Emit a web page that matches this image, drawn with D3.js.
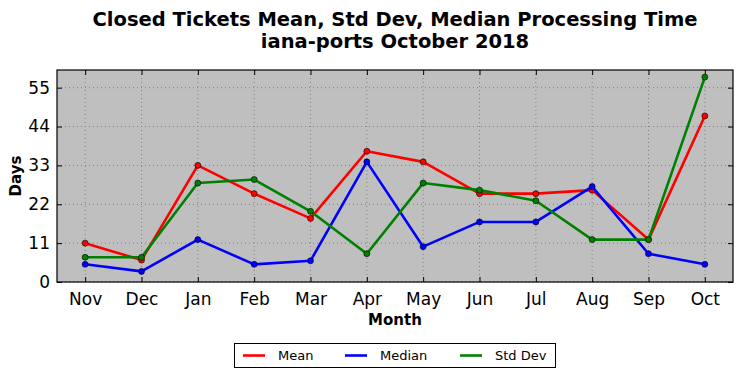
<!DOCTYPE html>
<html><head><meta charset="utf-8">
<script src="https://cdn.jsdelivr.net/npm/d3@7/dist/d3.min.js"></script>
<style>body{margin:0;background:#fff}svg{display:block;font-family:"DejaVu Sans",sans-serif}</style>
</head><body><svg id="c" width="742" height="378"></svg>
<script>
const months = ["Nov","Dec","Jan","Feb","Mar","Apr","May","Jun","Jul","Aug","Sep","Oct"];
const meanVals = [11, 6.2, 33, 25, 18, 37, 34, 25, 25, 26, 12, 47];
const medianVals = [5, 3, 12, 5, 6, 34, 10, 17, 17, 27, 8, 5];
const stdVals = [7, 7, 28, 29, 20, 8, 28, 26, 23, 12, 12, 58];
const yTicks = [0, 11, 22, 33, 44, 55];
const seriesNames = ["Mean", "Median", "Std Dev"];
const seriesColors = ["#ff0000", "#0000ff", "#008000"];

const svg = d3.select("#c");
const L = 57, R = 733, T = 70, B = 282;
const x = d3.scaleLinear().domain([-0.5, 11.5]).range([L, R]);
const y = d3.scaleLinear().domain([0, 60]).range([B, T]);

svg.append("rect").attr("x", L).attr("y", T).attr("width", R - L).attr("height", B - T).attr("fill", "#bfbfbf");

// grid
const g = svg.append("g");
months.forEach((m, i) => {
  g.append("line").attr("x1", x(i)).attr("x2", x(i)).attr("y1", T).attr("y2", B)
   .attr("stroke", "#808080").attr("stroke-width", 1).attr("stroke-dasharray", "1,3");
});
yTicks.forEach(v => {
  g.append("line").attr("x1", L).attr("x2", R).attr("y1", y(v)).attr("y2", y(v))
   .attr("stroke", "#808080").attr("stroke-width", 1).attr("stroke-dasharray", "1,3");
});

// axes with inward ticks
const xAxis = d3.axisBottom(x).tickValues(d3.range(12)).tickFormat(i => months[i]).tickSizeInner(-5).tickSizeOuter(0).tickPadding(11);
const xa = svg.append("g").attr("transform", `translate(0,${B})`).call(xAxis);
xa.select(".domain").remove();
xa.selectAll("text").attr("font-size", 17).attr("fill", "#000").attr("font-family", "DejaVu Sans");
const xTop = d3.axisTop(x).tickValues(d3.range(12)).tickFormat("").tickSizeInner(-5).tickSizeOuter(0);
const xt = svg.append("g").attr("transform", `translate(0,${T})`).call(xTop);
xt.select(".domain").remove();

const yAxis = d3.axisLeft(y).tickValues(yTicks).tickSizeInner(-5).tickSizeOuter(0).tickPadding(7);
const ya = svg.append("g").attr("transform", `translate(${L},0)`).call(yAxis);
ya.select(".domain").remove();
ya.selectAll("text").attr("font-size", 17).attr("fill", "#000").attr("font-family", "DejaVu Sans");
const yRight = d3.axisRight(y).tickValues(yTicks).tickFormat("").tickSizeInner(-5).tickSizeOuter(0);
const yr = svg.append("g").attr("transform", `translate(${R},0)`).call(yRight);
yr.select(".domain").remove();

// lines
const allVals = [meanVals, medianVals, stdVals];
const line = d3.line().x((d, i) => x(i)).y(d => y(d));
allVals.forEach((vals, k) => {
  svg.append("path").datum(vals).attr("d", line).attr("fill", "none")
    .attr("stroke", seriesColors[k]).attr("stroke-width", 2.6).attr("stroke-linejoin", "round");
  svg.selectAll(null).data(vals).enter().append("circle")
    .attr("cx", (d, i) => x(i)).attr("cy", d => y(d)).attr("r", 3)
    .attr("fill", seriesColors[k]).attr("stroke", "#000").attr("stroke-width", 0.6);
});

// frame
svg.append("rect").attr("x", L).attr("y", T).attr("width", R - L).attr("height", B - T)
  .attr("fill", "none").attr("stroke", "#000").attr("stroke-width", 1.2);

// title
svg.append("text").attr("x", 395).attr("y", 26).attr("text-anchor", "middle").attr("font-size", 19.5).attr("font-weight", "bold")
  .text("Closed Tickets Mean, Std Dev, Median Processing Time");
svg.append("text").attr("x", 395).attr("y", 48).attr("text-anchor", "middle").attr("font-size", 19.5).attr("font-weight", "bold")
  .text("iana-ports October 2018");

// axis labels
svg.append("text").attr("x", 395).attr("y", 325).attr("text-anchor", "middle").attr("font-size", 15).attr("font-weight", "bold").text("Month");
svg.append("text").attr("transform", "translate(21,176) rotate(-90)").attr("text-anchor", "middle").attr("font-size", 15).attr("font-weight", "bold").text("Days");

// legend
const lg = svg.append("g");
lg.append("rect").attr("x", 234.5).attr("y", 343.5).attr("width", 321).attr("height", 24).attr("fill", "#fff").attr("stroke", "#000").attr("stroke-width", 1);
const legX = [243, 345, 460];
seriesNames.forEach((n, k) => {
  lg.append("line").attr("x1", legX[k]).attr("x2", legX[k] + 22).attr("y1", 355.5).attr("y2", 355.5)
    .attr("stroke", seriesColors[k]).attr("stroke-width", 2.6);
  lg.append("text").attr("x", legX[k] + 35).attr("y", 360).attr("font-size", 13).text(n);
});
</script></body></html>
